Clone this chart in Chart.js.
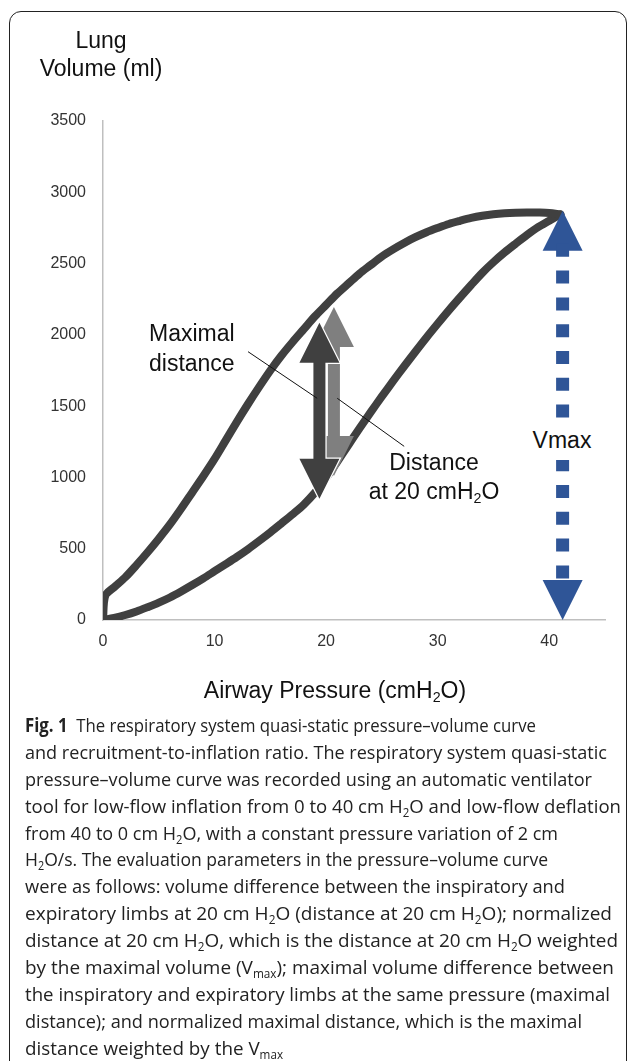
<!DOCTYPE html>
<html lang="en">
<head>
  <meta charset="UTF-8">
  <title>Fig. 1 Pressure-volume curve</title>
  <script src="https://cdn.jsdelivr.net/npm/chart.js"></script>
  <style>
    body {
      margin: 0;
      width: 629px;
      height: 1061px;
      overflow: hidden;
      background: #fff;
      position: relative;
      font-family: 'Liberation Sans', Arial, sans-serif;
    }
    .frame {
      position: absolute;
      left: 9px;
      top: 11px;
      width: 618px;
      height: 1080px;
      border: 1.3px solid #222;
      border-radius: 12px;
      box-sizing: border-box;
    }
    #chartWrap {
      position: absolute;
      left: 0;
      top: 0;
      width: 629px;
      height: 710px;
    }
    .lbl {
      position: absolute;
      font-size: 23px;
      color: #111;
      white-space: nowrap;
    }
    .lbl sub {
      font-size: 0.62em;
      vertical-align: -0.3em;
      line-height: 0;
    }
    .caption {
      position: absolute;
      left: 25px;
      top: 712px;
      font-family: 'Open Sans', 'Noto Sans', sans-serif;
      font-size: 19px;
      color: #222;
    }
    .caption .ln {
      display: block;
      height: 26.9px;
      line-height: 26.9px;
      white-space: nowrap;
    }
    .caption .ln span {
      display: inline-block;
      transform-origin: 0 50%;
    }
    .caption sub {
      font-size: 0.62em;
      vertical-align: -0.3em;
      line-height: 0;
    }
  </style>
</head>
<body>
  <div class="frame"></div>

  <div id="chartWrap"><canvas id="pvChart" width="629" height="710"></canvas></div>

  <!-- axis titles and annotation labels -->
  <div class="lbl" style="left:1px; top:26px; width:200px; text-align:center; line-height:28px;">Lung<br>Volume (ml)</div>
  <div class="lbl" style="left:149px; top:318px; line-height:30px;">Maximal<br>distance</div>
  <div class="lbl" style="left:334px; top:448px; width:200px; text-align:center; line-height:29px;">Distance<br>at 20 cmH<sub>2</sub>O</div>
  <div class="lbl" style="left:530px; top:420px; width:64px; height:40px; text-align:center; line-height:40px; background:#fff;">Vmax</div>
  <div class="lbl" style="left:185px; top:676px; width:300px; text-align:center; line-height:28px;">Airway Pressure (cmH<sub>2</sub>O)</div>

  <div class="caption" id="caption">
    <div class="ln" data-w="511"><span><b>Fig. 1</b>&nbsp; The respiratory system quasi-static pressure–volume curve</span></div>
    <div class="ln" data-w="582"><span>and recruitment-to-inflation ratio. The respiratory system quasi-static</span></div>
    <div class="ln" data-w="567"><span>pressure–volume curve was recorded using an automatic ventilator</span></div>
    <div class="ln" data-w="596"><span>tool for low-flow inflation from 0 to 40 cm H<sub>2</sub>O and low-flow deflation</span></div>
    <div class="ln" data-w="533"><span>from 40 to 0 cm H<sub>2</sub>O, with a constant pressure variation of 2 cm</span></div>
    <div class="ln" data-w="523"><span>H<sub>2</sub>O/s. The evaluation parameters in the pressure–volume curve</span></div>
    <div class="ln" data-w="540"><span>were as follows: volume difference between the inspiratory and</span></div>
    <div class="ln" data-w="587"><span>expiratory limbs at 20 cm H<sub>2</sub>O (distance at 20 cm H<sub>2</sub>O); normalized</span></div>
    <div class="ln" data-w="593"><span>distance at 20 cm H<sub>2</sub>O, which is the distance at 20 cm H<sub>2</sub>O weighted</span></div>
    <div class="ln" data-w="589"><span>by the maximal volume (V<sub>max</sub>); maximal volume difference between</span></div>
    <div class="ln" data-w="585"><span>the inspiratory and expiratory limbs at the same pressure (maximal</span></div>
    <div class="ln" data-w="557"><span>distance); and normalized maximal distance, which is the maximal</span></div>
    <div class="ln" data-w="258"><span>distance weighted by the V<sub>max</sub></span></div>
  </div>

<script>
  // inflation limb (pressure cmH2O, volume ml)
  const inflationP = [0, 0.2, 1, 2, 3, 4, 5, 6, 7, 8, 9, 10, 11, 12, 13, 14, 15, 16, 17, 18, 19, 20,
    21, 22, 23, 24, 25, 26, 27, 28, 29, 30, 31, 32, 33, 34, 35, 36, 37, 38, 39, 40, 41];
  const inflationV = [0, 170, 230, 300, 385, 475, 570, 670, 780, 895, 1010, 1130, 1260, 1390, 1515, 1635, 1750, 1855, 1950, 2040, 2130, 2210,
    2290, 2360, 2430, 2490, 2550, 2600, 2645, 2685, 2720, 2750, 2778, 2800, 2820, 2835, 2846, 2853, 2857, 2859, 2858, 2855, 2845];

  // deflation limb
  const deflationP = [41, 40, 39, 38, 37, 36, 35, 34, 33, 32, 31, 30, 29, 28, 27, 26, 25, 24, 23, 22, 21, 20,
    19, 18, 17, 16, 15, 14, 13, 12, 11, 10, 9, 8, 7, 6, 5, 4, 3, 2, 1, 0];
  const deflationV = [2845, 2800, 2755, 2700, 2640, 2578, 2510, 2435, 2350, 2262, 2172, 2078, 1982, 1882, 1780, 1675, 1568, 1458, 1345, 1228, 1110, 995,
    893, 810, 742, 678, 615, 555, 497, 443, 392, 342, 292, 245, 200, 158, 122, 90, 60, 35, 15, 0];

  const xTicks = [0, 10, 20, 30, 40];
  const yTicks = [0, 500, 1000, 1500, 2000, 2500, 3000, 3500];

  // arrows: [pressure, low volume, high volume]
  const maxDistArrow = [19.4, 850, 2085];
  const dist20Arrow = [20.7, 1010, 2195];
  const vmaxArrow = [41.2, 0, 2870];

  // leader lines: [[p1, v1], [p2, v2]]
  const maxDistLeader = [[13.0, 1882], [19.2, 1555]];
  const dist20Leader = [[21.0, 1555], [27.0, 1218]];

  const fontFamily = "'Liberation Sans', Arial, sans-serif";

  function arrowPath(ctx, cx, yTop, yBot, shaftW, headW, headH) {
    ctx.beginPath();
    ctx.moveTo(cx, yTop);
    ctx.lineTo(cx + headW / 2, yTop + headH);
    ctx.lineTo(cx + shaftW / 2, yTop + headH);
    ctx.lineTo(cx + shaftW / 2, yBot - headH);
    ctx.lineTo(cx + headW / 2, yBot - headH);
    ctx.lineTo(cx, yBot);
    ctx.lineTo(cx - headW / 2, yBot - headH);
    ctx.lineTo(cx - shaftW / 2, yBot - headH);
    ctx.lineTo(cx - shaftW / 2, yTop + headH);
    ctx.lineTo(cx - headW / 2, yTop + headH);
    ctx.closePath();
  }

  const annotations = {
    id: 'annotations',
    afterDatasetsDraw(chart) {
      const { ctx, scales: { x, y } } = chart;
      ctx.save();

      // distance at 20 cmH2O (light grey)
      arrowPath(ctx, x.getPixelForValue(dist20Arrow[0]), y.getPixelForValue(dist20Arrow[2]),
        y.getPixelForValue(dist20Arrow[1]), 12, 40, 40);
      ctx.fillStyle = '#7f7f7f';
      ctx.fill();

      // maximal distance (dark grey) with a thin white edge
      arrowPath(ctx, x.getPixelForValue(maxDistArrow[0]), y.getPixelForValue(maxDistArrow[2]),
        y.getPixelForValue(maxDistArrow[1]), 12, 40, 40);
      ctx.strokeStyle = '#fff';
      ctx.lineWidth = 2.5;
      ctx.stroke();
      ctx.fillStyle = '#404040';
      ctx.fill();

      // Vmax dotted arrow
      const vx = x.getPixelForValue(vmaxArrow[0]);
      const vTop = y.getPixelForValue(vmaxArrow[2]);
      const vBot = y.getPixelForValue(vmaxArrow[1]);
      ctx.fillStyle = '#2f5597';
      ctx.beginPath();
      ctx.moveTo(vx, vTop);
      ctx.lineTo(vx + 20, vTop + 40);
      ctx.lineTo(vx - 20, vTop + 40);
      ctx.closePath();
      ctx.fill();
      ctx.beginPath();
      ctx.moveTo(vx, vBot);
      ctx.lineTo(vx + 20, vBot - 40);
      ctx.lineTo(vx - 20, vBot - 40);
      ctx.closePath();
      ctx.fill();
      ctx.strokeStyle = '#2f5597';
      ctx.lineWidth = 13;
      ctx.lineCap = 'butt';
      ctx.setLineDash([13, 13.8]);
      ctx.beginPath();
      ctx.moveTo(vx, vTop + 33);
      ctx.lineTo(vx, vBot - 35);
      ctx.stroke();
      ctx.setLineDash([]);

      // leader lines
      ctx.strokeStyle = '#111';
      ctx.lineWidth = 1;
      [maxDistLeader, dist20Leader].forEach(l => {
        ctx.beginPath();
        ctx.moveTo(x.getPixelForValue(l[0][0]), y.getPixelForValue(l[0][1]));
        ctx.lineTo(x.getPixelForValue(l[1][0]), y.getPixelForValue(l[1][1]));
        ctx.stroke();
      });
      ctx.restore();
    }
  };

  const toPoints = (ps, vs) => ps.map((p, i) => ({ x: p, y: vs[i] }));

  const lineStyle = {
    showLine: true,
    borderColor: '#404040',
    borderWidth: 8,
    pointRadius: 0,
    tension: 0.3,
    borderCapStyle: 'round',
    borderJoinStyle: 'round'
  };

  new Chart(document.getElementById('pvChart'), {
    type: 'scatter',
    data: {
      datasets: [
        Object.assign({ label: 'Inflation', data: toPoints(inflationP, inflationV) }, lineStyle),
        Object.assign({ label: 'Deflation', data: toPoints(deflationP, deflationV) }, lineStyle)
      ]
    },
    options: {
      responsive: false,
      animation: false,
      layout: { padding: { top: 121, right: 24, left: 0, bottom: 0 } },
      plugins: { legend: { display: false }, tooltip: { enabled: false } },
      scales: {
        x: {
          type: 'linear',
          min: 0,
          max: 45,
          grid: { display: false, drawTicks: false },
          border: { color: '#bfbfbf', width: 1.5 },
          afterBuildTicks: s => { s.ticks = xTicks.map(v => ({ value: v })); },
          afterFit: s => { s.height = 90; },
          ticks: { color: '#333', padding: 12, font: { family: fontFamily, size: 16 }, callback: v => String(v) }
        },
        y: {
          min: 0,
          max: 3500,
          grid: { display: false, drawTicks: false },
          border: { color: '#bfbfbf', width: 1.5 },
          afterBuildTicks: s => { s.ticks = yTicks.map(v => ({ value: v })); },
          afterFit: s => { s.width = 103; },
          ticks: { color: '#333', padding: 17, font: { family: fontFamily, size: 16 }, callback: v => String(v) }
        }
      }
    },
    plugins: [annotations]
  });

  // squeeze each caption line to the width it has in the figure
  function fitCaption() {
    document.querySelectorAll('#caption .ln').forEach(ln => {
      const span = ln.querySelector('span');
      span.style.transform = 'none';
      const w = span.getBoundingClientRect().width;
      const target = parseFloat(ln.dataset.w);
      span.style.transform = 'scaleX(' + (target / w) + ')';
    });
  }
  fitCaption();
  if (document.fonts && document.fonts.ready) document.fonts.ready.then(fitCaption);
</script>
</body>
</html>
